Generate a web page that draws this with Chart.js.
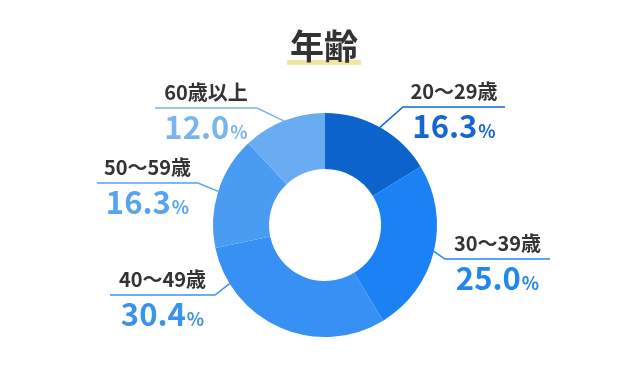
<!DOCTYPE html>
<html lang="ja">
<head>
<meta charset="utf-8">
<script src="https://cdn.jsdelivr.net/npm/chart.js@4/dist/chart.umd.min.js"></script>
<style>
  html, body { margin: 0; padding: 0; background: #fff; }
  #wrap { width: 638px; height: 378px; }
</style>
</head>
<body>
<div id="wrap"><canvas id="ageChart" width="638" height="378"></canvas></div>
<script>
// データ
const chartTitle = '年齢';
const categories = ['20〜29歳', '30〜39歳', '40〜49歳', '50〜59歳', '60歳以上'];
const shares = [16.3, 25.0, 30.4, 16.3, 12.0];

// 色
const sliceColors = ['#0c63cc', '#1a82f5', '#3791f5', '#4a9cf2', '#6aacf2'];
const textColors = ['#1466d2', '#1f86f2', '#3a92ef', '#56a3f0', '#78b4f1'];

// ラベルの配置 (引き出し線)
const labelLayout = [
  { lineY: 107, x1: 403, x2: 505, elbow: 'left',  at: 0.5 },
  { lineY: 259, x1: 445, x2: 550, elbow: 'left',  at: 0.5 },
  { lineY: 295, x1: 110, x2: 215, elbow: 'right', at: 0.82 },
  { lineY: 183, x1: 97,  x2: 198, elbow: 'right', at: 0.5 },
  { lineY: 108, x1: 155, x2: 257, elbow: 'right', at: 0.5 }
];

const FONT = '"Noto Sans CJK JP", "Noto Sans", sans-serif';

const titlePlugin = {
  id: 'titleMark',
  afterDraw(chart) {
    const ctx = chart.ctx;
    ctx.save();
    ctx.font = 'bold 34px ' + FONT;
    const w = ctx.measureText(chartTitle).width;
    const cx = 324;
    ctx.fillStyle = '#f1e5a6';
    ctx.fillRect(cx - w / 2 - 3, 60, w + 6, 5);
    ctx.fillStyle = '#333333';
    ctx.textAlign = 'center';
    ctx.textBaseline = 'middle';
    ctx.fillText(chartTitle, cx, 46);
    ctx.restore();
  }
};

const leaderPlugin = {
  id: 'leaderLabels',
  afterDraw(chart) {
    const ctx = chart.ctx;
    const arcs = chart.getDatasetMeta(0).data;
    ctx.save();
    arcs.forEach((arc, i) => {
      const lay = labelLayout[i];
      const p = arc.getProps(['x', 'y', 'startAngle', 'endAngle', 'outerRadius'], true);
      const a = p.startAngle + (p.endAngle - p.startAngle) * lay.at;
      const ax = p.x + Math.cos(a) * p.outerRadius;
      const ay = p.y + Math.sin(a) * p.outerRadius;
      const ex = lay.elbow === 'left' ? lay.x1 : lay.x2;

      ctx.strokeStyle = textColors[i];
      ctx.lineWidth = 1.5;
      ctx.beginPath();
      ctx.moveTo(ax, ay);
      ctx.lineTo(ex, lay.lineY);
      ctx.lineTo(lay.elbow === 'left' ? lay.x2 : lay.x1, lay.lineY);
      ctx.stroke();

      const cx = (lay.x1 + lay.x2) / 2;
      ctx.textBaseline = 'alphabetic';
      ctx.textAlign = 'center';
      ctx.fillStyle = '#333333';
      ctx.font = 'bold 20px ' + FONT;
      ctx.fillText(categories[i], cx, lay.lineY - 8);

      const num = shares[i].toFixed(1);
      ctx.font = 'bold 31px ' + FONT;
      const nw = ctx.measureText(num).width;
      ctx.font = 'bold 18px ' + FONT;
      const pw = ctx.measureText('%').width;
      const left = cx - (nw + pw + 1) / 2;
      ctx.textAlign = 'left';
      ctx.fillStyle = textColors[i];
      ctx.font = 'bold 31px ' + FONT;
      ctx.fillText(num, left, lay.lineY + 31);
      ctx.font = 'bold 18px ' + FONT;
      ctx.fillText('%', left + nw + 1, lay.lineY + 31);
    });
    ctx.restore();
  }
};

new Chart(document.getElementById('ageChart').getContext('2d'), {
  type: 'doughnut',
  data: {
    labels: categories,
    datasets: [{
      data: shares,
      backgroundColor: sliceColors,
      borderWidth: 0
    }]
  },
  options: {
    responsive: false,
    animation: false,
    cutout: '50%',
    layout: { padding: { top: 113, bottom: 41, left: 213, right: 201 } },
    plugins: {
      legend: { display: false },
      tooltip: { enabled: false }
    }
  },
  plugins: [titlePlugin, leaderPlugin]
});
</script>
</body>
</html>
